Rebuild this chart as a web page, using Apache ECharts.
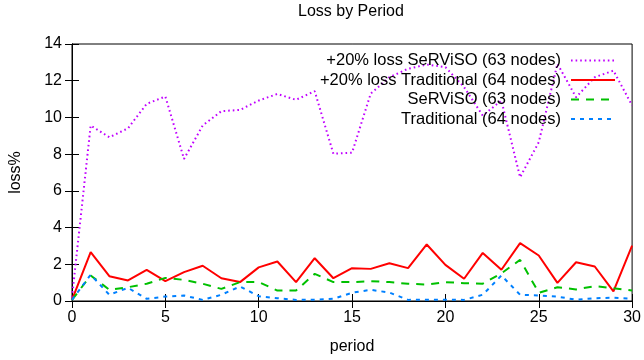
<!DOCTYPE html>
<html>
<head>
<meta charset="utf-8">
<script src="https://cdn.jsdelivr.net/npm/echarts@6/dist/echarts.min.js"></script>
<style>
html,body{margin:0;padding:0;background:#fff;}
#chart{width:644px;height:360px;}
</style>
</head>
<body>
<div id="chart"></div>
<script>
const periods = [0,1,2,3,4,5,6,7,8,9,10,11,12,13,14,15,16,17,18,19,20,21,22,23,24,25,26,27,28,29,30];
const seriesNames = ['+20% loss SeRViSO (63 nodes)', '+20% loss Traditional (64 nodes)', 'SeRViSO (63 nodes)', 'Traditional (64 nodes)'];
const serviso20 = [0.2, 9.56, 8.92, 9.41, 10.74, 11.14, 7.74, 9.56, 10.34, 10.41, 10.92, 11.28, 10.96, 11.43, 8.02, 8.08, 11.3, 12.19, 12.65, 12.88, 12.74, 11.65, 10.1, 10.92, 6.74, 8.65, 12.92, 11.1, 12.19, 12.55, 10.65];
const traditional20 = [0.06, 2.66, 1.35, 1.12, 1.7, 1.08, 1.57, 1.92, 1.24, 1.03, 1.83, 2.15, 1.03, 2.33, 1.24, 1.79, 1.75, 2.06, 1.79, 3.08, 1.97, 1.21, 2.62, 1.7, 3.15, 2.48, 0.99, 2.11, 1.88, 0.52, 3.02];
const serviso = [0.06, 1.39, 0.61, 0.75, 0.94, 1.26, 1.15, 0.94, 0.66, 1.03, 1.03, 0.57, 0.57, 1.48, 1.03, 1.03, 1.08, 1.03, 0.94, 0.9, 1.03, 0.97, 0.94, 1.51, 2.24, 0.45, 0.75, 0.63, 0.81, 0.7, 0.57];
const traditional = [0.06, 1.43, 0.34, 0.72, 0.12, 0.24, 0.3, 0.06, 0.34, 0.79, 0.26, 0.15, 0.06, 0.07, 0.12, 0.45, 0.61, 0.46, 0.06, 0.07, 0.07, 0.06, 0.34, 1.39, 0.34, 0.3, 0.24, 0.07, 0.15, 0.18, 0.12];

const values = [serviso20, traditional20, serviso, traditional];
const colors = ['#c000ff', '#ff0000', '#00c000', '#0080ff'];
const dashes = [[1.6, 3], 'solid', [8, 7], [4, 5]];
const legendTops = [52, 71.5, 91, 110.5];
const FONT = 'Liberation Sans, Arial, Helvetica, sans-serif';

const chart = echarts.init(document.getElementById('chart'), null, {renderer: 'canvas'});

const series = values.map((vals, k) => ({
  name: seriesNames[k],
  type: 'line',
  xAxisIndex: 0,
  yAxisIndex: 0,
  data: periods.map((p, i) => [p, vals[i]]),
  symbol: 'none',
  showSymbol: false,
  lineStyle: {color: colors[k], width: 2, type: dashes[k], cap: 'butt'},
  itemStyle: {color: colors[k]},
  z: 2 + k
}));

const legends = seriesNames.map((n, k) => ({
  data: [n],
  orient: 'vertical',
  right: 28,
  top: legendTops[k],
  padding: 0,
  align: 'right',
  itemWidth: 44,
  itemHeight: 16,
  selectedMode: false,
  itemStyle: {opacity: 0},
  lineStyle: {width: 2},
  textStyle: {fontFamily: FONT, fontSize: 16.5, color: '#000', lineHeight: 16, padding: [0, 5, 0, 0]}
}));

const axisCommon = {
  axisLine: {show: true, lineStyle: {color: '#000', width: 1}},
  axisTick: {show: true, inside: true, length: 7, lineStyle: {color: '#000', width: 1}},
  splitLine: {show: false}
};

chart.setOption({
  animation: false,
  backgroundColor: '#fff',
  title: {
    text: 'Loss by Period',
    left: 298,
    top: 4,
    padding: 0,
    textStyle: {fontFamily: FONT, fontSize: 16, fontWeight: 'normal', color: '#000'}
  },
  legend: legends,
  grid: {left: 72, right: 10, top: 44, bottom: 59, show: true, borderColor: '#000', borderWidth: 1, backgroundColor: 'transparent'},
  xAxis: [
    Object.assign({
      type: 'value', min: 0, max: 30, interval: 5, position: 'bottom',
      name: 'period', nameLocation: 'middle', nameGap: 38,
      nameTextStyle: {fontFamily: FONT, fontSize: 16, color: '#000'},
      axisLabel: {fontFamily: FONT, fontSize: 16, color: '#000', margin: 9}
    }, axisCommon),
    Object.assign({
      type: 'value', min: 0, max: 30, interval: 5, position: 'top',
      axisLabel: {show: false}
    }, axisCommon)
  ],
  yAxis: [
    Object.assign({
      type: 'value', min: 0, max: 14, interval: 2, position: 'left',
      name: 'loss%', nameLocation: 'middle', nameGap: 48, nameRotate: 90,
      nameTextStyle: {fontFamily: FONT, fontSize: 16, color: '#000'},
      axisLabel: {fontFamily: FONT, fontSize: 16, color: '#000', margin: 10}
    }, axisCommon),
    Object.assign({
      type: 'value', min: 0, max: 14, interval: 2, position: 'right',
      axisLabel: {show: false}
    }, axisCommon)
  ],
  series: series
});
</script>
</body>
</html>
